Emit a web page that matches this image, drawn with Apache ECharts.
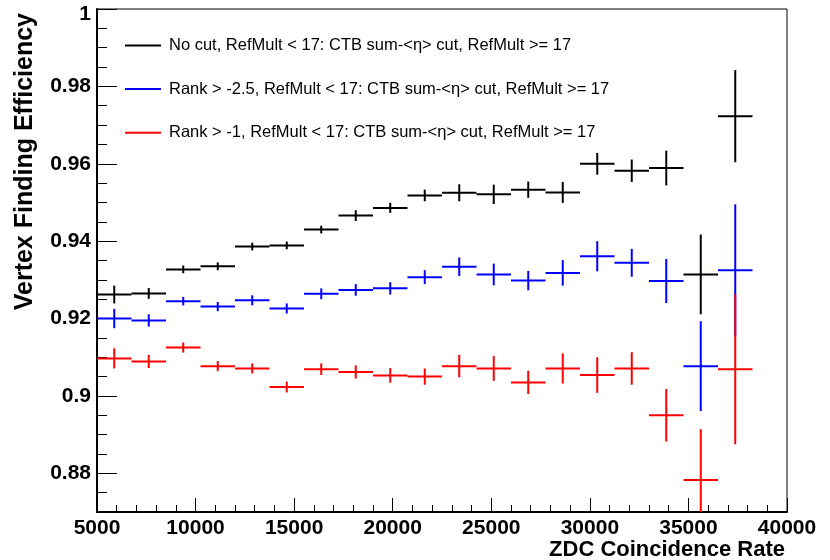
<!DOCTYPE html>
<html>
<head>
<meta charset="utf-8">
<script src="https://cdn.jsdelivr.net/npm/echarts@6/dist/echarts.min.js"></script>
<style>
  html, body { margin: 0; padding: 0; background: #fff; }
  #chart { width: 830px; height: 560px; }
</style>
</head>
<body>
<div id="chart"></div>
<script>
// bins (ZDC coincidence rate), width 1750
const binCenters = [5875, 7625, 9375, 11125, 12875, 14625, 16375, 18125, 19875, 21625,
  23375, 25125, 26875, 28625, 30375, 32125, 33875, 35625, 37375]
const binWidth = 1750

// no cut
const noCutEff = [0.9262, 0.9265, 0.9327, 0.9335, 0.9386, 0.9389, 0.9430, 0.9466, 0.9486, 0.9518,
  0.9525, 0.9521, 0.9533, 0.9526, 0.9600, 0.9582, 0.9589, 0.9314, 0.9723]
const noCutErr = [0.0023, 0.0014, 0.0010, 0.0010, 0.0010, 0.0010, 0.0010, 0.0014, 0.0013, 0.0015,
  0.0022, 0.0025, 0.0021, 0.0027, 0.0028, 0.0029, 0.0045, 0.0103, 0.0119]

// rank > -2.5
const rank25Eff = [0.9200, 0.9195, 0.9245, 0.9231, 0.9247, 0.9226, 0.9264, 0.9274, 0.9278, 0.9307,
  0.9334, 0.9314, 0.9298, 0.9318, 0.9361, 0.9344, 0.9297, 0.9077, 0.9325]
const rank25Err = [0.0025, 0.0016, 0.0011, 0.0012, 0.0013, 0.0013, 0.0014, 0.0015, 0.0016, 0.0018,
  0.0024, 0.0028, 0.0025, 0.0033, 0.0039, 0.0036, 0.0057, 0.0116, 0.0170]

// rank > -1
const rank1Eff = [0.9097, 0.9089, 0.9125, 0.9077, 0.9071, 0.9023, 0.9069, 0.9062, 0.9053, 0.9050,
  0.9077, 0.9071, 0.9035, 0.9071, 0.9054, 0.9071, 0.8950, 0.8783, 0.9069]
const rank1Err = [0.0026, 0.0017, 0.0013, 0.0013, 0.0013, 0.0014, 0.0015, 0.0017, 0.0019, 0.0021,
  0.0029, 0.0032, 0.0030, 0.0039, 0.0046, 0.0042, 0.0068, 0.0131, 0.0194]

const seriesNames = [
  'No cut, RefMult < 17: CTB sum-<η> cut, RefMult >= 17',
  'Rank > -2.5, RefMult < 17: CTB sum-<η> cut, RefMult >= 17',
  'Rank > -1, RefMult < 17: CTB sum-<η> cut, RefMult >= 17'
]
const seriesColors = ['#000000', '#0000ff', '#ff0000']

const yMajorTicks = [0.88, 0.9, 0.92, 0.94, 0.96, 0.98, 1]
const yMinorTicks = []
for (let i = 0; i <= 26; i++) yMinorTicks.push(+(0.87 + i * 0.005).toFixed(3))

const fontFamily = '"Liberation Sans", Arial, Helvetica, sans-serif'

// cross marker: horizontal = bin width, vertical = +-error
const makeSeries = (name, color, eff, err) => ({
  name,
  type: 'custom',
  clip: true,
  itemStyle: { color },
  data: binCenters.map((x, i) => [x, eff[i], err[i]]),
  renderItem: (params, api) => {
    const x = api.value(0)
    const y = api.value(1)
    const e = api.value(2)
    const l = api.coord([x - binWidth / 2, y])
    const r = api.coord([x + binWidth / 2, y])
    const t = api.coord([x, y + e])
    const b = api.coord([x, y - e])
    const style = { stroke: color, lineWidth: 2 }
    return {
      type: 'group',
      children: [
        { type: 'line', shape: { x1: l[0], y1: l[1], x2: r[0], y2: r[1] }, style },
        { type: 'line', shape: { x1: t[0], y1: t[1], x2: b[0], y2: b[1] }, style }
      ]
    }
  }
})

const myChart = echarts.init(document.getElementById('chart'), null, { renderer: 'canvas' })

const option = {
  animation: false,
  backgroundColor: '#fff',
  grid: {
    left: 97,
    right: 43,
    top: 9,
    bottom: 48,
    show: true,
    borderColor: '#000',
    borderWidth: 1,
    backgroundColor: 'transparent'
  },
  legend: {
    orient: 'vertical',
    left: 125,
    top: 37,
    padding: 0,
    itemWidth: 36,
    itemHeight: 2,
    itemGap: 26.6,
    icon: 'rect',
    data: seriesNames,
    textStyle: {
      fontFamily,
      fontSize: 16.5,
      lineHeight: 17,
      color: '#000',
      padding: [0, 0, 0, 3]
    }
  },
  xAxis: {
    type: 'value',
    min: 5000,
    max: 40000,
    interval: 5000,
    axisLine: { show: true, onZero: false, lineStyle: { color: '#000', width: 2 } },
    axisTick: { show: true, inside: true, length: 14, lineStyle: { color: '#000', width: 1 } },
    minorTick: { show: true, splitNumber: 5, length: 7, lineStyle: { color: '#000', width: 1 } },
    splitLine: { show: false },
    axisLabel: {
      margin: 6,
      color: '#000',
      fontFamily,
      fontWeight: 'bold',
      fontSize: 21,
      showMinLabel: true,
      showMaxLabel: true,
      formatter: v => String(v)
    }
  },
  yAxis: [
    {
      type: 'value',
      position: 'left',
      min: 0.87,
      max: 1.0,
      axisLine: { show: true, onZero: false, lineStyle: { color: '#000', width: 2 } },
      axisTick: {
        show: true,
        inside: true,
        length: 20,
        customValues: yMajorTicks,
        lineStyle: { color: '#000', width: 1 }
      },
      splitLine: { show: false },
      axisLabel: {
        margin: 6,
        color: '#000',
        fontFamily,
        fontWeight: 'bold',
        fontSize: 21,
        customValues: yMajorTicks,
        formatter: v => (v === 1 ? '{top|1}' : String(+v.toFixed(2))),
        rich: {
          top: { fontFamily, fontWeight: 'bold', fontSize: 21, color: '#000', padding: [10, 0, 0, 0] }
        }
      }
    },
    {
      // minor ticks
      type: 'value',
      position: 'left',
      offset: 0,
      min: 0.87,
      max: 1.0,
      axisLine: { show: false },
      axisTick: {
        show: true,
        inside: true,
        length: 10,
        customValues: yMinorTicks,
        lineStyle: { color: '#000', width: 1 }
      },
      splitLine: { show: false },
      axisLabel: { show: false }
    }
  ],
  graphic: [
    {
      type: 'text',
      x: 25,
      y: 13,
      rotation: Math.PI / 2,
      style: {
        text: 'Vertex Finding Efficiency',
        font: 'bold 25px ' + fontFamily,
        fill: '#000',
        textAlign: 'right',
        textVerticalAlign: 'middle'
      }
    },
    {
      type: 'text',
      x: 785,
      y: 550,
      style: {
        text: 'ZDC Coincidence Rate',
        font: 'bold 22px ' + fontFamily,
        fill: '#000',
        textAlign: 'right',
        textVerticalAlign: 'middle'
      }
    }
  ],
  series: [
    makeSeries(seriesNames[0], seriesColors[0], noCutEff, noCutErr),
    makeSeries(seriesNames[1], seriesColors[1], rank25Eff, rank25Err),
    makeSeries(seriesNames[2], seriesColors[2], rank1Eff, rank1Err)
  ]
}

myChart.setOption(option, { notMerge: true })
</script>
</body>
</html>
